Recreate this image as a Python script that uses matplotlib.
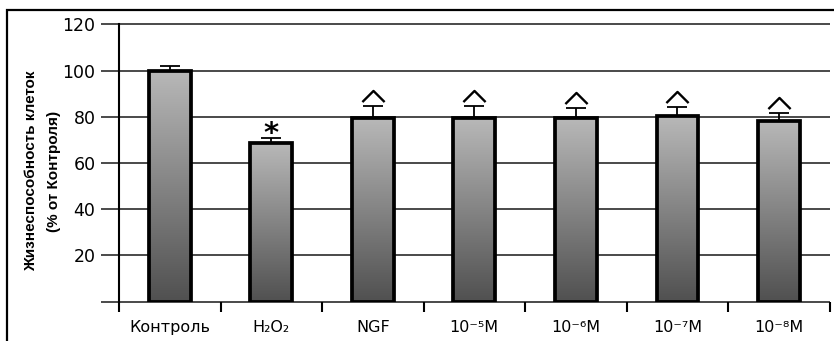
import numpy as np
import matplotlib.pyplot as plt
from matplotlib.colors import LinearSegmentedColormap
from matplotlib.patches import Rectangle
from matplotlib.path import Path
from matplotlib.transforms import ScaledTranslation

groups = ['Контроль', 'H₂O₂', 'NGF', '10⁻⁵M', '10⁻⁶M', '10⁻⁷M', '10⁻⁸M']
viability = [100, 68.5, 79.5, 79.5, 79.5, 80.2, 78.3]
sem = [2.0, 2.5, 5.0, 5.0, 4.5, 4.0, 3.2]
vs_control = [False, True, False, False, False, False, False]  # asterisk
vs_h2o2 = [False, False, True, True, True, True, True]        # caret
yticks = [20, 40, 60, 80, 100, 120]

fig = plt.figure(figsize=(8.34, 3.41), dpi=100)
ax = fig.add_axes([0.1427, 0.1152, 0.852, 0.8135])

x = np.arange(len(groups)) + 0.5
width = 0.41
top = np.array(viability) + np.array(sem)

# vertical grey ramp inside every bar, dark at the base
grad = LinearSegmentedColormap.from_list('bar', ['#505050', '#b8b8b8'])
ramp = np.linspace(0, 1, 256).reshape(-1, 1)

for xi, v in zip(x, viability):
    box = Rectangle((xi - width / 2, 0), width, v, fill=False,
                    ec='black', lw=2.7, zorder=4)
    ax.add_patch(box)
    im = ax.imshow(ramp, cmap=grad, origin='lower', aspect='auto',
                   extent=[xi - width / 2, xi + width / 2, 0, v], zorder=3)
    im.set_clip_path(box)

ax.errorbar(x, viability, yerr=[np.zeros(len(sem)), sem], fmt='none',
            ecolor='black', elinewidth=1.3, capsize=7, capthick=1.3, zorder=5)

# significance marks sitting just above the error caps
for xi, t, star in zip(x, top, vs_control):
    if star:
        ax.annotate('*', (xi, t), xytext=(0, -3.5), textcoords='offset points',
                    ha='center', va='baseline', fontsize=21, fontweight='bold')

chevron = Path([(-1, -0.5), (0, 0.5), (1, -0.5)], [Path.MOVETO, Path.LINETO, Path.LINETO])
lift = ax.transData + ScaledTranslation(0, 7.2 / 72, fig.dpi_scale_trans)
sel = np.array(vs_h2o2)
ax.plot(x[sel], top[sel], ls='none', marker=chevron, ms=16, mfc='none',
        mec='black', mew=1.7, transform=lift, clip_on=False, zorder=6)

# horizontal rules, poking out left of the axis like ticks
ax.hlines([0] + yticks, -0.177, 7, colors='#2b2b2b', lw=1.2,
          clip_on=False, zorder=1)

ax.set_xlim(0, 7)
ax.set_ylim(0, 120)
for side in ['top', 'right', 'bottom']:
    ax.spines[side].set_visible(False)
ax.spines['left'].set_linewidth(1.5)

ax.set_xticks(x, groups, fontsize=11.5)
ax.set_xticks(np.arange(len(groups) + 1), minor=True)
ax.tick_params(axis='x', which='major', length=0, pad=13)
ax.tick_params(axis='x', which='minor', length=7.5, width=1.5, direction='out')
ax.set_yticks(yticks, [str(t) for t in yticks], fontsize=12.5)
ax.tick_params(axis='y', length=0, pad=17)

fig.text(42.5 / 834, 1 - 171 / 341, 'Жизнеспособность клеток\n(% от Контроля)',
         rotation=90, ha='center', va='center', multialignment='center',
         family=['Liberation Sans'], fontweight='bold',
         fontsize=11, linespacing=1.8)

# outer frame, open at the right and bottom
fig.add_artist(Rectangle((7 / 834, -0.05), 1.0, 1 - 10 / 341 + 0.05,
                         transform=fig.transFigure, fill=False, ec='black', lw=1.6))

fig.savefig('out.png', dpi=100)
